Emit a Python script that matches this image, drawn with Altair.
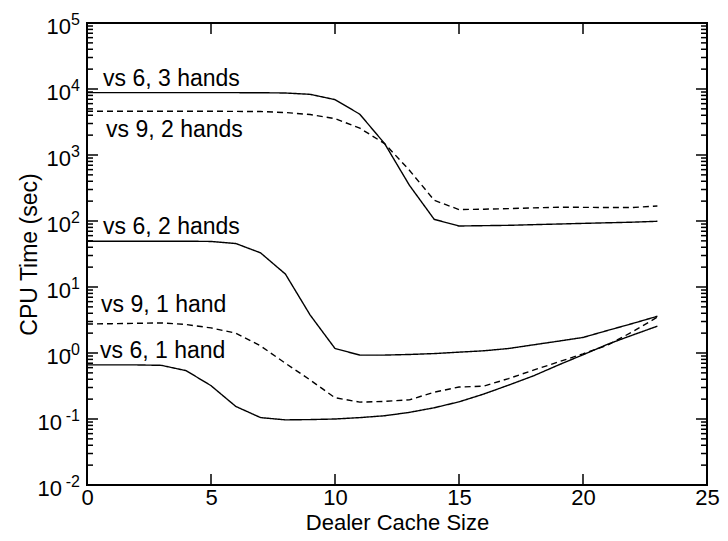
import altair as alt
import pandas as pd

# ---------------- data ----------------
cache_size = list(range(24))

vs6_3hands = [8800, 8800, 8800, 8800, 8800, 8800, 8800, 8780, 8700, 8300, 6900, 4150,
              1490, 348, 106, 84, 85, 86, 88, 90, 92, 94, 96, 99]
vs9_2hands = [4600, 4600, 4600, 4600, 4600, 4600, 4580, 4550, 4400, 4100, 3560, 2550,
              1490, 588, 206, 149, 151, 154, 158, 162, 161, 160, 160, 169]
vs6_2hands = [49.4, 49.4, 49.4, 49.4, 49.4, 49.0, 45.6, 32.9, 15.7, 3.75, 1.17, 0.93,
              0.93, 0.95, 0.98, 1.03, 1.08, 1.17, 1.33, 1.51, 1.72, 2.2, 2.8, 3.6]
vs9_1hand = [2.75, 2.78, 2.82, 2.86, 2.7, 2.4, 2.0, 1.28, 0.7, 0.39, 0.21, 0.18,
             0.185, 0.195, 0.255, 0.305, 0.315, 0.41, 0.55, 0.73, 0.97, 1.32, 2.1, 3.5]
vs6_1hand = [0.66, 0.66, 0.66, 0.65, 0.54, 0.32, 0.155, 0.105, 0.097, 0.098, 0.1, 0.105,
             0.112, 0.126, 0.148, 0.182, 0.239, 0.326, 0.45, 0.656, 0.94, 1.36, 1.87, 2.55]

series_names = ["vs 6, 3 hands", "vs 9, 2 hands", "vs 6, 2 hands", "vs 9, 1 hand", "vs 6, 1 hand"]
series_values = [vs6_3hands, vs9_2hands, vs6_2hands, vs9_1hand, vs6_1hand]

label_x = [0.645, 0.766, 0.645, 0.565, 0.524]
label_y = [10990, 1876, 62.5, 4.21, 0.845]

x_ticks = [0, 5, 10, 15, 20, 25]
y_major = [1e5, 1e4, 1e3, 1e2, 1e1, 1e0, 1e-1, 1e-2]
y_exponents = ["5", "4", "3", "2", "1", "-0", "-1", "-2"]
y_minor = [m * 10.0 ** e for e in range(-2, 5) for m in range(2, 10)]

# ---------------- layout / style ----------------
W, H = 620, 462
FONT = "Liberation Sans"
MAJOR, MINOR = 11, 6

rows = []
for name, vals in zip(series_names, series_values):
    for xv, tv in zip(cache_size, vals):
        rows.append({"series": name, "x": xv, "t": tv})
df = pd.DataFrame(rows)

lab_df = pd.DataFrame({"label": series_names, "lx": label_x, "ly": label_y})
ymaj_df = pd.DataFrame({"v": y_major, "e": y_exponents})
ymin_df = pd.DataFrame({"v": y_minor})
xt_df = pd.DataFrame({"v": x_ticks})

xscale = alt.Scale(domain=[0, 25], nice=False)
yscale = alt.Scale(type="log", domain=[0.01, 1e5], nice=False)

xaxis = alt.Axis(values=x_ticks, ticks=False, domain=False, grid=False,
                 labelFont=FONT, labelFontSize=22, labelPadding=2, labelColor="black",
                 labelFlush=False,
                 title="Dealer Cache Size", titleFont=FONT, titleFontSize=22,
                 titleFontWeight="normal", titleColor="black",
                 titleY=44, titleBaseline="alphabetic")
yaxis = alt.Axis(labels=False, ticks=False, domain=False, grid=False,
                 title="CPU Time (sec)", titleFont=FONT, titleFontSize=23,
                 titleFontWeight="normal", titleColor="black",
                 titleAngle=270, titleX=-50.5, titleY=H / 2,
                 titleBaseline="alphabetic", titleAlign="center")

lines = alt.Chart(df).mark_line(color="black", strokeWidth=1.4).encode(
    x=alt.X("x:Q", scale=xscale, axis=xaxis),
    y=alt.Y("t:Q", scale=yscale, axis=yaxis),
    strokeDash=alt.StrokeDash(
        "series:N",
        scale=alt.Scale(domain=series_names,
                        range=[[1, 0], [6, 4], [1, 0], [6, 4], [1, 0]]),
        legend=None),
    order="x:Q",
)


def yrule(data, x1, x2):
    return alt.Chart(data).mark_rule(color="black", strokeWidth=1.5).encode(
        y=alt.Y("v:Q", scale=yscale, axis=yaxis),
        x=alt.value(x1), x2=alt.value(x2))


def xrule(y1, y2):
    return alt.Chart(xt_df).mark_rule(color="black", strokeWidth=1.5).encode(
        x=alt.X("v:Q", scale=xscale, axis=xaxis),
        y=alt.value(y1), y2=alt.value(y2))


ticks = [
    yrule(ymaj_df, 0, MAJOR), yrule(ymin_df, 0, MINOR),
    yrule(ymaj_df, W, W - MAJOR), yrule(ymin_df, W, W - MINOR),
    xrule(H, H - MAJOR), xrule(0, MAJOR),
]

base10_pos = alt.Chart(ymaj_df).transform_filter("datum.v > 0.5").mark_text(
    align="right", baseline="alphabetic", dy=10.5, fontSize=22, font=FONT, color="black"
).encode(y=alt.Y("v:Q", scale=yscale, axis=yaxis), x=alt.value(-16), text=alt.value("10"))

base10_neg = alt.Chart(ymaj_df).transform_filter("datum.v < 0.5").mark_text(
    align="right", baseline="alphabetic", dy=10.5, fontSize=22, font=FONT, color="black"
).encode(y=alt.Y("v:Q", scale=yscale, axis=yaxis), x=alt.value(-25), text=alt.value("10"))

expo = alt.Chart(ymaj_df).mark_text(
    align="right", baseline="alphabetic", dy=1.5, fontSize=16, font=FONT, color="black"
).encode(y=alt.Y("v:Q", scale=yscale, axis=yaxis), x=alt.value(-7), text="e:N")

labels = alt.Chart(lab_df).mark_text(
    align="left", baseline="alphabetic", fontSize=23, font=FONT, color="black"
).encode(
    x=alt.X("lx:Q", scale=xscale, axis=xaxis),
    y=alt.Y("ly:Q", scale=yscale, axis=yaxis),
    text="label:N",
)

chart = alt.layer(lines, *ticks, base10_pos, base10_neg, expo, labels).properties(
    width=W, height=H,
    autosize=alt.AutoSizeParams(type="none"),
    padding={"left": 79, "top": 15, "right": 13, "bottom": 48},
).configure_view(stroke="black", strokeWidth=2)

chart.save("out.html", embed_options={"renderer": "svg", "actions": False})
